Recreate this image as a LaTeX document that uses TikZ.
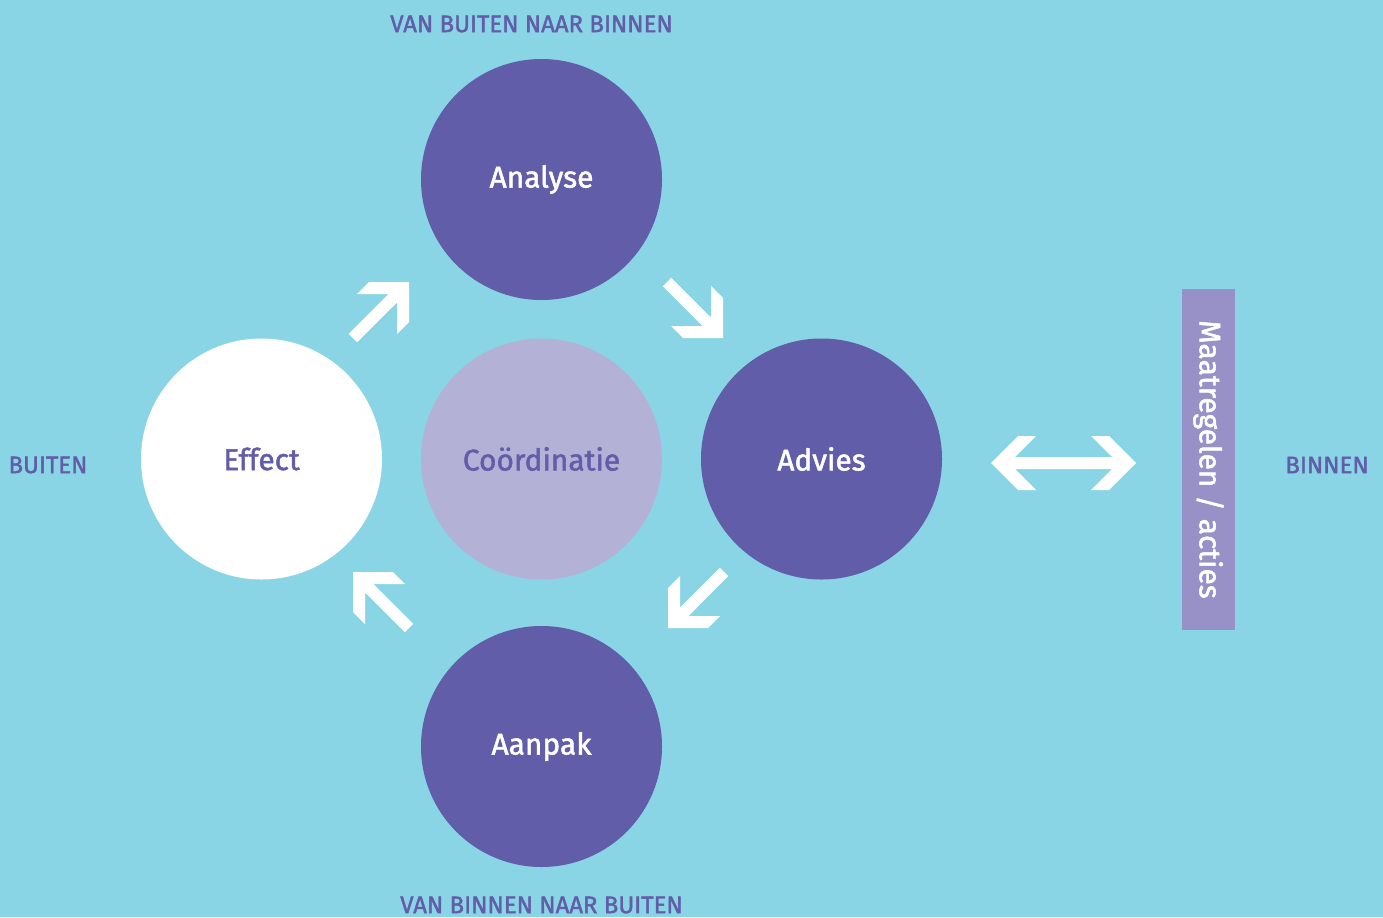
\documentclass[tikz,border=0pt]{standalone}
\usepackage{fontspec}
\setmainfont{Fira Sans}[FakeBold=1.6]
\definecolor{bgblue}{HTML}{89D5E5}
\definecolor{stagedark}{HTML}{625DA8}
\definecolor{stagelight}{HTML}{B3B1D6}
\definecolor{barlilac}{HTML}{9891C7}
\begin{document}
\begin{tikzpicture}[x=1bp,y=-1bp,
  stage/.style={circle, minimum size=241bp, inner sep=0pt, fill=stagedark,
    text=white, font=\fontsize{30}{35}\selectfont},
  sidelabel/.style={text=stagedark, inner sep=0pt, font=\fontsize{24}{28}\selectfont},
  whitearrow/.style={fill=white, draw=none}
]
% canvas
\fill[bgblue] (0,0) rectangle (1383,917);
\useasboundingbox (0,0) rectangle (1383,917);

% cycle of stages
\node[stage] (analyse) at (541.5,179.5) {Analyse};
\node[stage, fill=white, text=stagedark] (effect) at (261.5,459) {Effect};
\node[stage, fill=stagelight, text=stagedark] (coord) at (541.5,459) {Coördinatie};
\node[stage] (advies) at (821.5,459) {Advies};
\node[stage] (aanpak) at (541.5,746.5) {Aanpak};

% side labels
\node[sidelabel] (outin) at (531.5,24) {VAN BUITEN NAAR BINNEN};
\node[sidelabel] (inout) at (541.5,905) {VAN BINNEN NAAR BUITEN};
\node[sidelabel] (buiten) at (48,465) {BUITEN};
\node[sidelabel] (binnen) at (1327,465) {BINNEN};

% measures bar
\node[fill=barlilac, minimum width=53bp, minimum height=341bp, inner sep=0pt] (bar) at (1208.5,459.5) {};
\node[rotate=-90, text=white, inner sep=0pt, font=\fontsize{30}{36}\selectfont] (barlabel) at (bar.center) {Maatregelen / acties};

% chunky corner arrows between the stages (drawn pointing up-right, then turned)
\newcommand{\cornerarrow}{%
  (0,0) -- (0,40) -- (-12,52) -- (-12,20.5) -- (-51.8,60.2) -- (-60.2,51.8)
  -- (-20.5,12) -- (-52,12) -- (-40,0) -- cycle}
\fill[whitearrow, shift={(409,282)}] \cornerarrow;
\fill[whitearrow, shift={(723,338)}, rotate=-90] \cornerarrow;
\fill[whitearrow, shift={(668,628)}, rotate=180] \cornerarrow;
\fill[whitearrow, shift={(353,572)}, rotate=90] \cornerarrow;

% two-way arrow towards the measures
\fill[whitearrow] (991,463) -- (1018,436) -- (1036,436) -- (1015,457) -- (1112,457)
  -- (1091,436) -- (1109,436) -- (1136,463) -- (1109,490) -- (1091,490)
  -- (1112,469) -- (1015,469) -- (1036,490) -- (1018,490) -- cycle;
\end{tikzpicture}
\end{document}
